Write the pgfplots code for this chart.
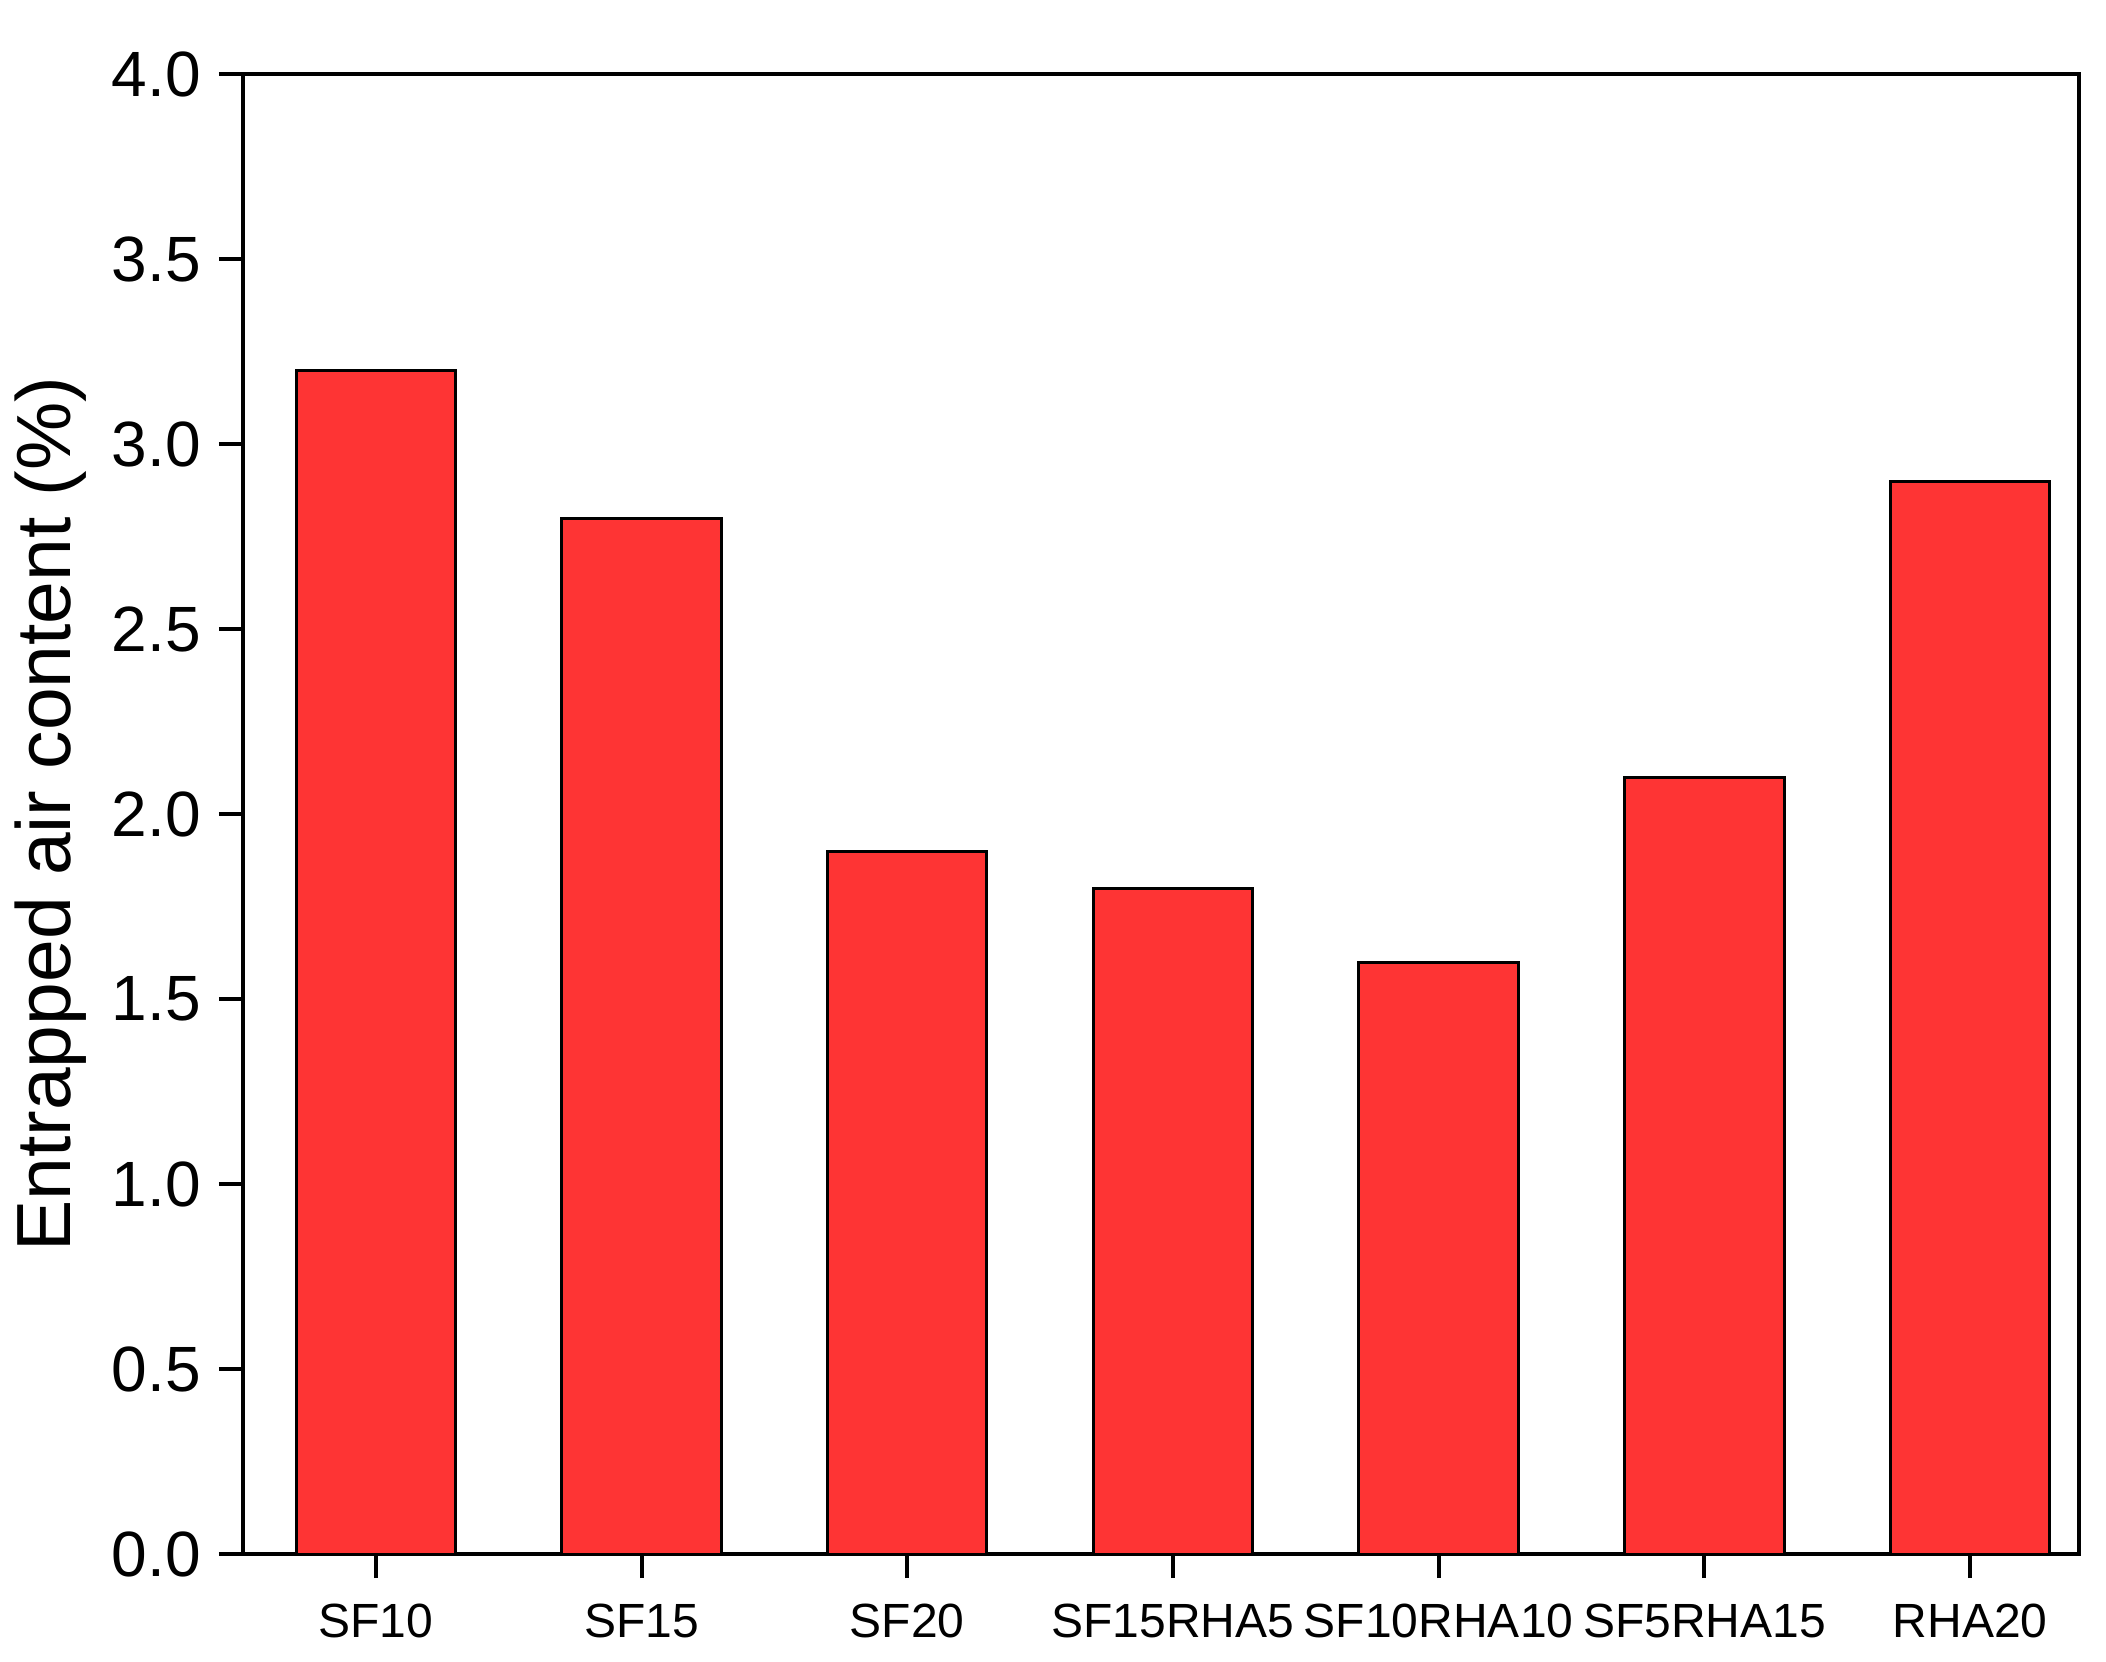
\documentclass[border=0pt]{standalone}
\usepackage{fontspec}
\setmainfont{Liberation Sans}
\usepackage{pgfplots}
\pgfplotsset{compat=1.18}
\definecolor{barred}{RGB}{254,52,52}
\begin{document}
\begin{tikzpicture}
\useasboundingbox (-60.75pt,-26.75pt) rectangle (465.75pt,388.5pt);
\begin{axis}[
  at={(0,0)}, anchor=south west,
  scale only axis,
  width=459pt, height=370pt,
  xmin=-0.5, xmax=6.41,
  ymin=0, ymax=4,
  ytick={0,0.5,...,4},
  xtick={0,1,2,3,4,5,6},
  xticklabels={SF10,SF15,SF20,SF15RHA5,SF10RHA10,SF5RHA15,RHA20},
  axis line style={line width=1pt},
  tick style={line width=1pt, black},
  tick align=outside,
  major tick length=6pt,
  xtick pos=bottom, ytick pos=left,
  /pgf/number format/assume math mode=true,
  yticklabel style={/pgf/number format/fixed, /pgf/number format/fixed zerofill, /pgf/number format/precision=1, font=\fontsize{16}{18}\selectfont, xshift=-1pt},
  xticklabel style={font=\fontsize{12}{14}\selectfont, yshift=-3pt},
  ylabel={Entrapped air content (\%)},
  ylabel style={font=\fontsize{19.2}{22}\selectfont, yshift=-0.5pt},
  ybar, bar width=0.6,
]
\addplot[fill=barred, draw=black, line width=0.75pt] coordinates {
(0,3.2) (1,2.8) (2,1.9) (3,1.8) (4,1.6) (5,2.1) (6,2.9)
};
\end{axis}
\end{tikzpicture}
\end{document}
